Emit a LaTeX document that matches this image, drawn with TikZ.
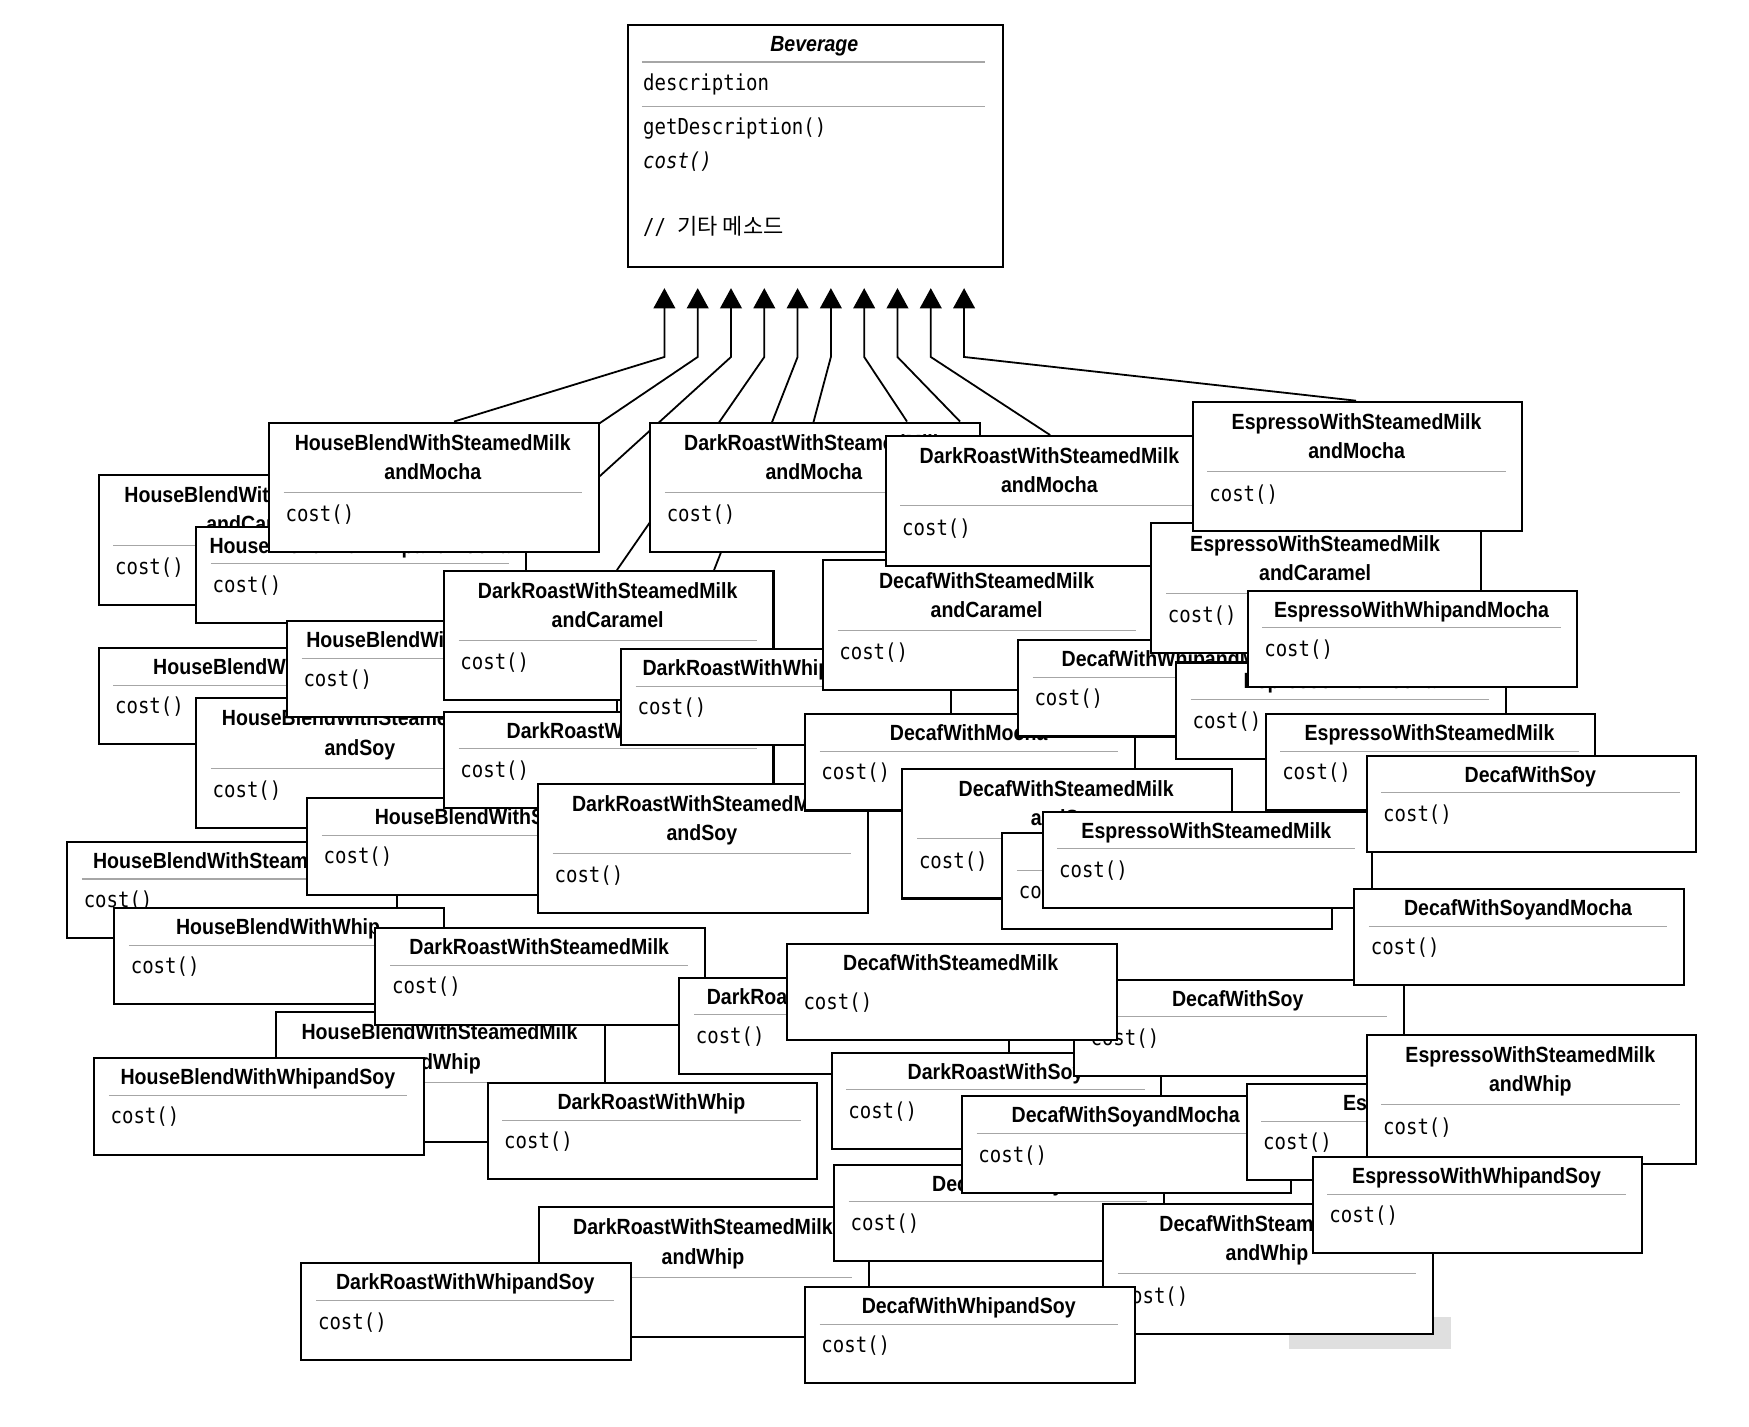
\documentclass[tikz,border=0pt]{standalone}
\usepackage{fontspec}
\usepackage{tikz}
\usetikzlibrary{arrows.meta}
\newfontfamily\titlefont[FakeStretch=0.89]{Liberation Sans}
\newfontfamily\codefont[FakeStretch=0.865]{DejaVu Sans Mono}
\newfontfamily\hangulfont{Noto Sans CJK KR}
\tikzset{classbox/.style = {draw, fill=white, line width=1.8pt, anchor=north west,
                            inner sep=0pt, minimum width=294pt},
         classname/.style = {anchor=base, inner sep=0pt,
                              font=\titlefont\bfseries\fontsize{19.6}{20}\selectfont},
         method/.style = {anchor=base west, inner sep=0pt,
                          font=\codefont\fontsize{19.6}{20}\selectfont},
         sepline/.style = {gray!70, line width=0.9pt},
         inherit/.style = {line width=1.6pt, -{Triangle[width=19.3pt,length=18pt]}}}
\newcommand{\oneclass}[3]{%
  \begin{scope}[shift={#2}]
    \node [classbox, minimum height=86pt] (#1) at (0,0) {};
    \node [classname] at (147,24.5) {#3};
    \draw [sepline] (14,34) -- (280,34);
    \node [method] at (15.5,59.5) {cost()};
  \end{scope}}
\newcommand{\twoclass}[4]{%
  \begin{scope}[shift={#2}]
    \node [classbox, minimum height=115.5pt] (#1) at (0,0) {};
    \node [classname] at (147,25.5) {#3};
    \node [classname] at (147,51.5) {#4};
    \draw [sepline] (14,63.3) -- (280,63.3);
    \node [method] at (15.5,89.5) {cost()};
  \end{scope}}

\begin{document}
\begin{tikzpicture}[x=1pt, y=-1pt]
    \useasboundingbox (0,0) rectangle (1560,1272);

    \node [classbox, minimum width=334.5pt, minimum height=216pt] (beverage) at (559,21.4) {};
    \node [classname, font=\titlefont\bfseries\itshape\fontsize{19.6}{20}\selectfont] (bevname) at (726.3,45.5) {Beverage};
    \draw [sepline] (572.6,55.3) -- (878.6,55.3);
    \draw [sepline] (572.6,95.4) -- (878.6,95.4);
    \node [method] (bevfield) at (573.5,80.3) {description};
    \node [method] (bevget) at (573.5,120.4) {getDescription()};
    \node [method, font=\codefont\itshape\fontsize{19.6}{20}\selectfont] (bevcost) at (573.5,150.1) {cost()};
    \node [method] (bevother) at (573.5,209.6) {// {\hangulfont\fontsize{19.6}{20}\selectfont 기타 메소드}};

    \foreach \i in {1,...,10} {
      \coordinate (tip\i) at ({592.6+29.7*(\i-1)}, 257);
      \coordinate (bend\i) at ({592.6+29.7*(\i-1)}, 318.4);
    }
    \coordinate (end1) at (405, 376);
    \coordinate (end2) at (395, 472);
    \coordinate (end3) at (390.7, 555.7);
    \coordinate (end4) at (550.3, 508.4);
    \coordinate (end5) at (636.9, 508.4);
    \coordinate (end6) at (724.1, 382);
    \coordinate (end7) at (809, 376);
    \coordinate (end8) at (856.3, 376);
    \coordinate (end9) at (936.6, 388);
    \coordinate (end10) at (1209.5, 357.4);
    \foreach \i in {1,...,10}
      \draw [inherit] (end\i) -- (bend\i) -- (tip\i);

    \twoclass{hbMilkCaramel}{(87,423)}{HouseBlendWithSteamedMilk}{andCaramel}
    \oneclass{hbWhipMocha}{(174,469)}{HouseBlendWithWhipandMocha}
    \twoclass{hbMilkMocha}{(239,376)}{HouseBlendWithSteamedMilk}{andMocha}
    \oneclass{hbMocha}{(87,577)}{HouseBlendWithMocha}
    \twoclass{hbMilkSoy}{(174,622)}{HouseBlendWithSteamedMilk}{andSoy}
    \oneclass{hbSoyMocha}{(255,553)}{HouseBlendWithSoyandMocha}
    \twoclass{drMilkCaramel}{(395,508)}{DarkRoastWithSteamedMilk}{andCaramel}
    \oneclass{hbMilk}{(59,750)}{HouseBlendWithSteamedMilk}
    \oneclass{hbSoy}{(273,711)}{HouseBlendWithSoy}
    \oneclass{drMocha}{(395,634)}{DarkRoastWithMocha}
    \twoclass{drMilkSoy}{(479,698)}{DarkRoastWithSteamedMilk}{andSoy}
    \oneclass{drWhipMocha}{(553,578)}{DarkRoastWithWhipandMocha}
    \twoclass{dcMilkCaramel}{(733,499)}{DecafWithSteamedMilk}{andCaramel}
    \twoclass{drMilkMochaA}{(579,376)}{DarkRoastWithSteamedMilk}{andMocha}
    \twoclass{drMilkMochaB}{(789,388)}{DarkRoastWithSteamedMilk}{andMocha}
    \oneclass{dcMocha}{(717,636)}{DecafWithMocha}
    \oneclass{dcWhipMocha}{(907,570)}{DecafWithWhipandMocha}
    \twoclass{esMilkCaramel}{(1026,466)}{EspressoWithSteamedMilk}{andCaramel}
    \twoclass{esMilkMocha}{(1063,357.4)}{EspressoWithSteamedMilk}{andMocha}
    \oneclass{esMocha}{(1048,590)}{EspressoWithMocha}
    \oneclass{esWhipMocha}{(1112,526)}{EspressoWithWhipandMocha}
    \oneclass{esMilkA}{(1128,636)}{EspressoWithSteamedMilk}
    \twoclass{dcMilkSoy}{(804,685)}{DecafWithSteamedMilk}{andSoy}
    \oneclass{dcWhip}{(893,742)}{DecafWithWhip}
    \oneclass{esMilkB}{(929,723)}{EspressoWithSteamedMilk}
    \oneclass{dcSoyA}{(1218,673)}{DecafWithSoy}
    \oneclass{hbWhip}{(101,809)}{HouseBlendWithWhip}
    \twoclass{hbMilkWhip}{(245,902)}{HouseBlendWithSteamedMilk}{andWhip}
    \oneclass{drMilk}{(334,827)}{DarkRoastWithSteamedMilk}
    \oneclass{hbWhipSoy}{(83,943)}{HouseBlendWithWhipandSoy}
    \oneclass{drWhip}{(434,965)}{DarkRoastWithWhip}
    \oneclass{drSoyMocha}{(605,871)}{DarkRoastWithSoyandMocha}
    \oneclass{drSoy}{(741,938)}{DarkRoastWithSoy}
    \oneclass{dcSoyB}{(957,873)}{DecafWithSoy}

    \node [classbox, minimum height=86pt] (dcMilk) at (701,841) {};
    \node [classname] (dcMilkName) at (848,865.5) {DecafWithSteamedMilk};
    \node [method] (dcMilkCost) at (716.5,900.5) {cost()};

    \oneclass{dcSoyMochaA}{(1207,792)}{DecafWithSoyandMocha}
    \twoclass{drMilkWhip}{(480,1076)}{DarkRoastWithSteamedMilk}{andWhip}
    \oneclass{drWhipSoy}{(268,1126)}{DarkRoastWithWhipandSoy}
    \oneclass{dcSoyC}{(743,1038)}{DecafWithSoy}
    \oneclass{dcSoyMochaB}{(857,977)}{DecafWithSoyandMocha}

    \node [classbox, minimum height=86pt] (esSoy) at (1111,966) {};
    \node [classname] (esSoyName) at (1272,990.5) {EspressoWithSoy};
    \draw [sepline] (1125,1000) -- (1391,1000);
    \node [method] (esSoyCost) at (1126.5,1025.5) {cost()};

    \twoclass{esMilkWhip}{(1218,922)}{EspressoWithSteamedMilk}{andWhip}
    \fill [gray!25] (1150,1175) rectangle (1294,1203);
    \twoclass{dcMilkWhip}{(983,1073)}{DecafWithSteamedMilk}{andWhip}
    \oneclass{esWhipSoy}{(1170,1031)}{EspressoWithWhipandSoy}
    \oneclass{dcWhipSoy}{(717,1147)}{DecafWithWhipandSoy}
\end{tikzpicture}
\end{document}
